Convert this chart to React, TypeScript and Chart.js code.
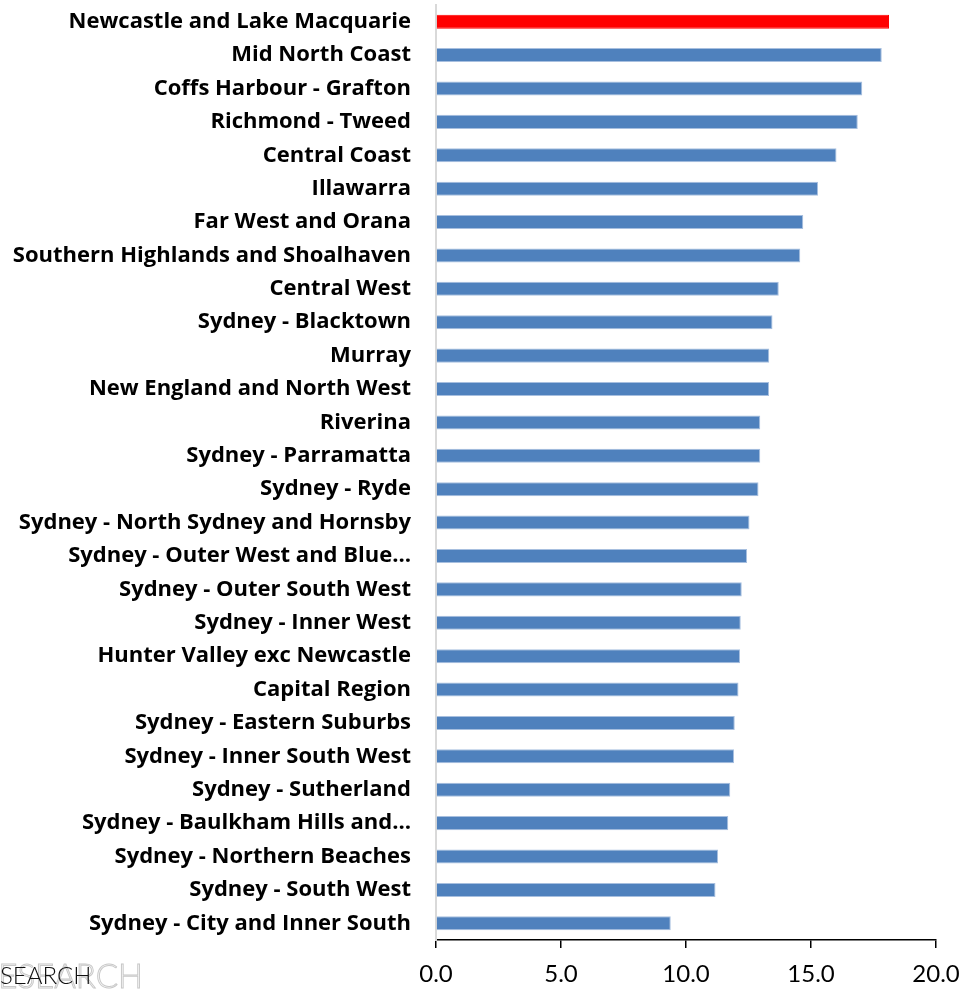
import React, { useEffect, useRef } from "react";
import { Chart, registerables } from "chart.js";

Chart.register(...registerables);

const categories: string[] = [
  "Newcastle and Lake Macquarie",
  "Mid North Coast",
  "Coffs Harbour - Grafton",
  "Richmond - Tweed",
  "Central Coast",
  "Illawarra",
  "Far West and Orana",
  "Southern Highlands and Shoalhaven",
  "Central West",
  "Sydney - Blacktown",
  "Murray",
  "New England and North West",
  "Riverina",
  "Sydney - Parramatta",
  "Sydney - Ryde",
  "Sydney - North Sydney and Hornsby",
  "Sydney - Outer West and Blue…",
  "Sydney - Outer South West",
  "Sydney - Inner West",
  "Hunter Valley exc Newcastle",
  "Capital Region",
  "Sydney - Eastern Suburbs",
  "Sydney - Inner South West",
  "Sydney - Sutherland",
  "Sydney - Baulkham Hills and…",
  "Sydney - Northern Beaches",
  "Sydney - South West",
  "Sydney - City and Inner South",
];

const values: number[] = [
  18.12, 17.83, 17.05, 16.87, 16.02, 15.28, 14.69, 14.57, 13.71, 13.46, 13.33,
  13.32, 12.97, 12.97, 12.9, 12.54, 12.44, 12.23, 12.19, 12.16, 12.1, 11.95,
  11.92, 11.77, 11.69, 11.28, 11.18, 9.39,
];

const highlighted: string[] = ["Newcastle and Lake Macquarie"];

const xMin = 0;
const xMax = 20;
const xStep = 5;

const BLUE = "#4F81BD";
const BLUE_EDGE = "#a7bfdf";
const RED = "#FF0000";

const watermarkPlugin = {
  id: "watermark",
  afterDraw(chart: any) {
    const ctx = chart.ctx as CanvasRenderingContext2D;
    ctx.save();
    ctx.textAlign = "right";
    ctx.textBaseline = "alphabetic";
    ctx.font = "300 33px Lato";
    ctx.strokeStyle = "#c8c8c8";
    ctx.lineWidth = 1;
    ctx.strokeText("RESEARCH", 143, 988);
    ctx.textAlign = "left";
    ctx.font = "300 24px Lato";
    ctx.fillStyle = "#111111";
    ctx.fillText("SEARCH", 0, 984);
    ctx.restore();
  },
};

export default function App() {
  const ref = useRef<HTMLCanvasElement | null>(null);

  useEffect(() => {
    document.body.style.margin = "0";
    const canvas = ref.current;
    if (!canvas) return;
    const chart = new Chart(canvas, {
      type: "bar",
      data: {
        labels: categories,
        datasets: [
          {
            data: values,
            backgroundColor: categories.map((c) =>
              highlighted.includes(c) ? RED : BLUE
            ),
            borderColor: categories.map((c) =>
              highlighted.includes(c) ? RED : BLUE_EDGE
            ),
            borderWidth: 1,
            barPercentage: 0.42,
            categoryPercentage: 1,
          },
        ],
      },
      options: {
        indexAxis: "y",
        animation: false,
        responsive: false,
        maintainAspectRatio: false,
        layout: { padding: { top: 5, right: 29, left: 0, bottom: 0 } },
        plugins: {
          legend: { display: false },
          tooltip: { enabled: false },
        },
        scales: {
          x: {
            min: xMin,
            max: xMax,
            ticks: {
              stepSize: xStep,
              color: "#000000",
              padding: 12,
              font: { family: "Lato", size: 24, weight: "normal" },
              callback: (v: any) => Number(v).toFixed(1),
              maxRotation: 0,
            },
            grid: {
              display: true,
              drawOnChartArea: false,
              drawTicks: true,
              tickLength: 8,
              color: "#000000",
              lineWidth: 1.5,
            },
            border: { display: true, color: "#000000", width: 1.5 },
            afterFit: (scale: any) => {
              scale.height = 49;
              scale.paddingLeft = 0;
              scale.paddingRight = 0;
            },
          },
          y: {
            ticks: {
              color: "#000000",
              padding: 25,
              autoSkip: false,
              font: { family: "Open Sans", size: 22, weight: "bold" },
            },
            grid: { display: false, drawTicks: false },
            border: { display: true, color: "#d9d9d9", width: 2 },
            afterFit: (scale: any) => {
              scale.width = 436;
              scale.paddingTop = 0;
              scale.paddingBottom = 0;
            },
          },
        },
      },
      plugins: [watermarkPlugin],
    });
    return () => chart.destroy();
  }, []);

  return (
    <div style={{ width: 965, height: 989, background: "#ffffff" }}>
      <canvas ref={ref} width={965} height={989} style={{ display: "block" }} />
    </div>
  );
}
